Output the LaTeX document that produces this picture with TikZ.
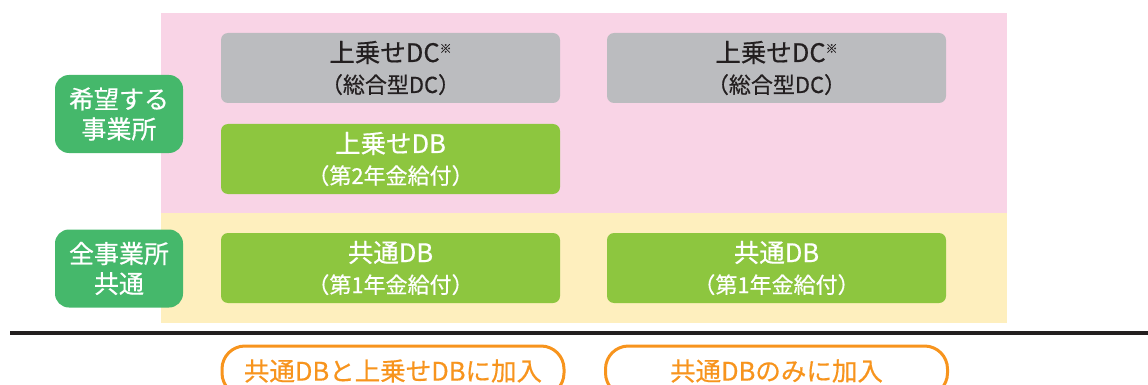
\documentclass[tikz,border=0pt]{standalone}
\usepackage{fontspec}
\setmainfont{Noto Sans CJK JP}[FakeBold=0.5]
\definecolor{bgpink}{HTML}{F9D4E6}
\definecolor{bgyellow}{HTML}{FEEFBE}
\definecolor{boxgray}{HTML}{BBBCBF}
\definecolor{boxgreen}{HTML}{8DC63F}
\definecolor{labgreen}{HTML}{45B86B}
\definecolor{pillorange}{HTML}{F7941D}
\definecolor{darktext}{HTML}{231F20}
\tikzset{
  planbox/.style={rounded corners=7pt, minimum width=339pt, minimum height=70pt, align=center, inner sep=0pt, font=\fontsize{24}{31}\selectfont},
  graybox/.style={planbox, fill=boxgray, text=darktext},
  greenbox/.style={planbox, fill=boxgreen, text=white},
  labelbox/.style={rounded corners=14pt, fill=labgreen, text=white, minimum width=128pt, minimum height=78pt, align=center, inner sep=0pt, font=\fontsize{25}{30}\selectfont},
  pill/.style={rounded corners=23pt, draw=pillorange, line width=3pt, text=pillorange, minimum width=342pt, minimum height=50pt, inner sep=0pt, font=\fontsize{25.5}{27}\selectfont},
}
\newcommand{\mainline}{\fontsize{25.5}{31}\selectfont}
\newcommand{\subline}{\fontsize{22}{31}\selectfont}
\newcommand{\kome}{\raisebox{9pt}{\fontsize{12}{12}\selectfont ※}}
\begin{document}
\begin{tikzpicture}[x=1pt,y=-1pt]
\useasboundingbox (0,0) rectangle (1148,385);
\clip (0,0) rectangle (1148,385);
\fill[bgpink] (161,13) rectangle (1007,213);
\fill[bgyellow] (161,213) rectangle (1007,323);
\node[graybox] (dc1) at (390.5,68) {\mainline 上乗せDC\kome\\\subline （総合型DC）};
\node[graybox] (dc2) at (776.5,68) {\mainline 上乗せDC\kome\\\subline （総合型DC）};
\node[greenbox] (db2) at (390.5,159) {\mainline 上乗せDB\\\subline （第2年金給付）};
\node[greenbox] (cdb1) at (390.5,268) {\mainline 共通DB\\\subline （第1年金給付）};
\node[greenbox] (cdb2) at (776.5,268) {\mainline 共通DB\\\subline （第1年金給付）};
\node[labelbox] (l1) at (119,114) {希望する\\事業所};
\node[labelbox] (l2) at (119,268.5) {全事業所\\共通};
\coordinate (ls) at (10,333);
\coordinate (le) at (1148,333);
\draw[line width=4pt, darktext] (ls) -- (le);
\node[pill] (p1) at (393,371) {共通DBと上乗せDBに加入};
\node[pill] (p2) at (776.5,371) {共通DBのみに加入};
\end{tikzpicture}
\end{document}
